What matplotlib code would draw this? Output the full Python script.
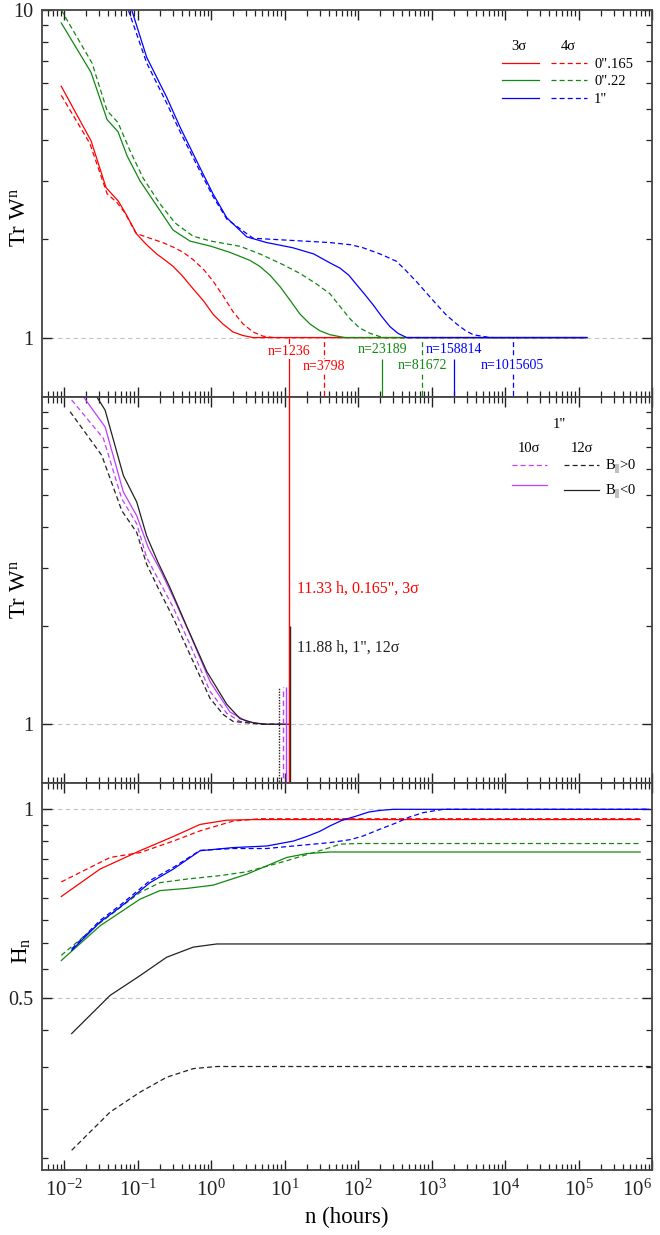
import numpy as np
import matplotlib
matplotlib.use('Agg')
import matplotlib.pyplot as plt
from matplotlib.ticker import LogLocator, FixedLocator, FixedFormatter, NullFormatter

plt.rcParams['font.family'] = ['Liberation Serif', 'DejaVu Serif']
plt.rcParams['mathtext.fontset'] = 'custom'
plt.rcParams['mathtext.rm'] = 'Liberation Serif'
plt.rcParams['mathtext.it'] = 'Liberation Serif:italic'
plt.rcParams['mathtext.bf'] = 'Liberation Serif:bold'

RED = '#ff0000'
GREEN = '#118811'
BLUE = '#0000ff'
MAG = '#c03cff'
BLK = '#222222'
GRID = '#c4c4c4'
DASH = (0, (4, 2.5))

# ---------- panel 1 : Tr W^n, 3 sigma (solid) / 4 sigma (dashed) ----------
red3_x = [0.00917, 0.0233, 0.0373, 0.0548, 0.0698, 0.0975, 0.13, 0.182, 0.24, 0.304, 0.40, 0.569, 0.80, 1.06, 1.45, 1.99, 2.7, 3.73, 11.33, 1.3e5]
red3_y = [5.85, 3.99, 2.87, 2.61, 2.38, 2.07, 1.93, 1.80, 1.72, 1.65, 1.55, 1.41, 1.29, 1.18, 1.10, 1.04, 1.015, 1.0, 1.0, 1.0]
red4_x = [0.00917, 0.0225, 0.0385, 0.0528, 0.0677, 0.0954, 0.148, 0.22, 0.304, 0.42, 0.569, 0.80, 1.06, 1.46, 1.99, 2.73, 3.73, 5.1, 7.0, 34.8, 1.3e5]
red4_y = [5.49, 3.91, 2.75, 2.58, 2.40, 2.08, 2.01, 1.95, 1.89, 1.82, 1.73, 1.61, 1.49, 1.34, 1.20, 1.10, 1.04, 1.01, 1.0, 1.0, 1.0]
grn3_x = [0.00917, 0.0233, 0.0385, 0.0543, 0.072, 0.108, 0.184, 0.304, 0.518, 1.0, 1.81, 3.39, 4.6, 6.35, 8.7, 11.9, 16.2, 22.2, 30.0, 41.6, 66.0, 212.6, 1.3e5]
grn3_y = [9.13, 6.45, 4.63, 4.25, 3.59, 3.01, 2.52, 2.13, 1.97, 1.90, 1.82, 1.72, 1.65, 1.55, 1.43, 1.30, 1.18, 1.10, 1.05, 1.02, 1.0, 1.0, 1.0]
grn4_x = [0.00917, 0.0241, 0.0385, 0.0543, 0.079, 0.119, 0.202, 0.323, 0.569, 1.0, 2.48, 4.64, 9.5, 16.2, 27.0, 41.6, 56.0, 78.0, 105.0, 146.0, 218.0, 1.3e5]
grn4_y = [10.0, 6.88, 4.93, 4.53, 3.72, 3.07, 2.56, 2.24, 2.04, 1.97, 1.90, 1.80, 1.67, 1.57, 1.46, 1.36, 1.25, 1.14, 1.07, 1.03, 1.0, 1.0]
blu3_x = [0.0834, 0.133, 0.249, 0.379, 0.708, 1.06, 1.64, 3.06, 5.72, 13.0, 25.0, 41.6, 56.7, 75.0, 95.8, 125.0, 160.0, 210.0, 272.0, 350.0, 460.0, 1.3e5]
blu3_y = [10.0, 7.18, 5.42, 4.39, 3.30, 2.75, 2.32, 2.03, 1.95, 1.88, 1.80, 1.69, 1.63, 1.55, 1.45, 1.35, 1.26, 1.16, 1.08, 1.03, 1.0, 1.0]
blu4_x = [0.075, 0.133, 0.249, 0.379, 0.708, 1.06, 1.64, 3.73, 41.6, 80.0, 117.0, 200.0, 333.0, 450.0, 627.0, 850.0, 1180.0, 1600.0, 2200.0, 2900.0, 3700.0, 6270.0, 1.3e5]
blu4_y = [10.0, 6.9, 5.2, 4.25, 3.22, 2.70, 2.30, 2.01, 1.95, 1.92, 1.88, 1.80, 1.71, 1.60, 1.48, 1.37, 1.26, 1.17, 1.10, 1.05, 1.02, 1.0, 1.0]

# convergence markers (n steps -> hours)
conv_labels = ['n=1236', 'n=3798', 'n=23189', 'n=81672', 'n=158814', 'n=1015605']
conv_hours = [11.33, 34.8, 212.6, 748.7, 1995.0, 12735.0]
conv_top = [1.0, 1.0, 0.86, 1.0, 0.86, 1.0]
conv_text_y = [0.906, 0.815, 0.919, 0.821, 0.919, 0.821]
conv_color = [RED, RED, GREEN, GREEN, BLUE, BLUE]
conv_dashed = [False, True, False, True, False, True]

# ---------- panel 2 : Tr W^n, 1", 10 sigma / 12 sigma ----------
m10p_x = [0.0127, 0.0343, 0.061, 0.0975, 0.133, 0.2, 0.307, 0.518, 0.969, 1.64, 2.48, 5.0, 9.45]
m10p_y = [9.77, 7.46, 4.88, 4.09, 3.23, 2.72, 2.27, 1.75, 1.26, 1.08, 1.02, 1.0, 1.0]
m10n_x = [0.0183, 0.0362, 0.0641, 0.0975, 0.140, 0.21, 0.307, 0.518, 0.969, 1.81, 3.06, 5.0, 10.5]
m10n_y = [10.0, 8.09, 5.12, 4.33, 3.46, 2.92, 2.44, 1.88, 1.35, 1.09, 1.02, 1.0, 1.0]
b12p_x = [0.0121, 0.0326, 0.061, 0.0975, 0.133, 0.2, 0.307, 0.518, 0.969, 1.47, 2.0, 5.0, 8.5]
b12p_y = [9.0, 6.62, 4.49, 3.85, 3.08, 2.55, 2.11, 1.63, 1.20, 1.07, 1.02, 1.0, 1.0]
b12n_x = [0.0278, 0.0362, 0.0641, 0.0975, 0.133, 0.19, 0.277, 0.467, 0.874, 1.64, 2.48, 3.76, 5.72, 11.88]
b12n_y = [10.0, 9.1, 5.75, 4.77, 3.76, 3.12, 2.61, 1.99, 1.45, 1.15, 1.04, 1.01, 1.0, 1.0]

stop_hours = [8.5, 9.45, 10.5, 11.88]
stop_top = [1.30, 1.30, 1.30, 1.99]

# ---------- panel 3 : H_n ----------
hr3_x = [0.00917, 0.0309, 0.108, 0.307, 0.709, 1.64, 3.76, 6.9e5]
hr3_y = [0.726, 0.803, 0.859, 0.905, 0.946, 0.961, 0.963, 0.963]
hr4_x = [0.00917, 0.0423, 0.108, 0.307, 0.709, 2.01, 4.64, 6.9e5]
hr4_y = [0.766, 0.838, 0.853, 0.890, 0.924, 0.958, 0.966, 0.966]
hg3_x = [0.00917, 0.0309, 0.108, 0.202, 0.467, 1.07, 3.06, 10.7, 20.0, 41.6, 6.9e5]
hg3_y = [0.574, 0.652, 0.719, 0.742, 0.748, 0.757, 0.788, 0.838, 0.850, 0.855, 0.855]
hg4_x = [0.00917, 0.0309, 0.108, 0.202, 0.467, 1.33, 3.06, 10.7, 41.6, 56.9, 100.0, 6.9e5]
hg4_y = [0.585, 0.659, 0.737, 0.764, 0.774, 0.784, 0.795, 0.828, 0.869, 0.880, 0.882, 0.882]
hb3_x = [0.0127, 0.0309, 0.0578, 0.148, 0.307, 0.709, 2.01, 5.72, 13.2, 20.0, 30.0, 41.6, 60.0, 95.9, 140.0, 199.0, 300.0, 9e5]
hb3_y = [0.596, 0.661, 0.698, 0.764, 0.803, 0.859, 0.869, 0.874, 0.890, 0.905, 0.922, 0.941, 0.960, 0.976, 0.990, 0.996, 1.0, 1.0]
hb4_x = [0.0127, 0.0309, 0.0578, 0.148, 0.307, 0.709, 2.01, 5.72, 41.6, 80.0, 118.0, 200.0, 336.0, 500.0, 773.0, 1445.0, 9e5]
hb4_y = [0.599, 0.665, 0.703, 0.770, 0.808, 0.860, 0.866, 0.866, 0.885, 0.895, 0.907, 0.930, 0.952, 0.972, 0.988, 1.0, 1.0]
hk12n_x = [0.0127, 0.0423, 0.108, 0.249, 0.574, 1.2, 1e6]
hk12n_y = [0.439, 0.505, 0.543, 0.581, 0.603, 0.610, 0.610]
hk12p_x = [0.0127, 0.0423, 0.108, 0.249, 0.574, 1.2, 1e6]
hk12p_y = [0.286, 0.329, 0.354, 0.374, 0.386, 0.389, 0.389]

x_major = [1e-2, 1e-1, 1e0, 1e1, 1e2, 1e3, 1e4, 1e5, 1e6]

LW = 0.9

fig, axes = plt.subplots(3, 1, sharex=True, figsize=(6.6, 12.35), dpi=100)
fig.subplots_adjust(left=0.0636, right=0.9879, top=0.9919, bottom=0.0526, hspace=0)
ax1, ax2, ax3 = axes

for ax in axes:
    ax.set_xscale('log')
    ax.set_yscale('log')
    ax.set_xlim(10 ** -2.3, 1e6)
    ax.xaxis.set_major_locator(FixedLocator(x_major))
    ax.xaxis.set_minor_locator(LogLocator(base=10, subs=np.arange(2, 10), numticks=20))
    ax.xaxis.set_minor_formatter(NullFormatter())
    ax.tick_params(which='both', direction='in', top=True, right=True, colors='#222')
    ax.tick_params(axis='x', labelsize=15, pad=7)
    ax.tick_params(axis='y', labelsize=14.5, pad=6)
    ax.tick_params(which='major', length=7, width=1.0)
    ax.tick_params(which='minor', length=4, width=0.9)
    for sp in ax.spines.values():
        sp.set_linewidth(1.3)
        sp.set_color('#444444')

# panel 1
ax1.axhline(1.0, color=GRID, lw=0.8, ls=(0, (4, 3)), zorder=1)
r3, = ax1.plot(red3_x, red3_y, color=RED, lw=LW)
r4, = ax1.plot(red4_x, red4_y, color=RED, lw=LW, ls=DASH)
g3, = ax1.plot(grn3_x, grn3_y, color=GREEN, lw=LW)
g4, = ax1.plot(grn4_x, grn4_y, color=GREEN, lw=LW, ls=DASH)
b3, = ax1.plot(blu3_x, blu3_y, color=BLUE, lw=LW)
b4, = ax1.plot(blu4_x, blu4_y, color=BLUE, lw=LW, ls=DASH)

for lab, xh, top, ty, c, d in zip(conv_labels, conv_hours, conv_top, conv_text_y, conv_color, conv_dashed):
    ax1.vlines(xh, 0.5, top, colors=c, lw=LW, linestyles=DASH if d else 'solid', zorder=2)
    ax1.text(xh, ty, lab, color=c, fontsize=10, ha='center', va='center', zorder=3,
             bbox=dict(facecolor='white', edgecolor='none', pad=0.6))

ax1.set_ylim(0.66, 10)
ax1.yaxis.set_major_locator(FixedLocator([1, 10]))
ax1.yaxis.set_major_formatter(FixedFormatter(['1', '10']))
ax1.yaxis.set_minor_locator(FixedLocator([2, 3, 4, 5, 6, 7, 8, 9]))
ax1.yaxis.set_minor_formatter(NullFormatter())
ax1.set_ylabel('Tr W$^{\\rm n}$', fontsize=16.5)
ax1.yaxis.set_label_coords(-0.018, 0.462)

ax1.legend(handles=[r3, g3, b3, r4, g4, b4], labels=['', '', '', '0".165', '0".22', '1"'],
           ncol=2, loc='upper left', bbox_to_anchor=(0.754, 0.877), frameon=False,
           fontsize=10.5, handlelength=2.53, handletextpad=0.46, columnspacing=0.34,
           labelspacing=0.3, borderpad=0, borderaxespad=0)
ax1.text(0.782, 0.905, '3σ', transform=ax1.transAxes, fontsize=10.5, ha='center', va='center')
ax1.text(0.862, 0.905, '4σ', transform=ax1.transAxes, fontsize=10.5, ha='center', va='center')

# panel 2
ax2.axhline(1.0, color=GRID, lw=0.8, ls=(0, (4, 3)), zorder=1)
mp, = ax2.plot(m10p_x, m10p_y, color=MAG, lw=LW, ls=DASH)
mn, = ax2.plot(m10n_x, m10n_y, color=MAG, lw=LW)
kp, = ax2.plot(b12p_x, b12p_y, color=BLK, lw=LW, ls=DASH)
kn, = ax2.plot(b12n_x, b12n_y, color=BLK, lw=LW)

stop_colors = [BLK, MAG, MAG, BLK]
stop_styles = [(0, (1, 1)), DASH, 'solid', 'solid']
for xh, top, c, s in zip(stop_hours, stop_top, stop_colors, stop_styles):
    ax2.vlines(xh, 0.5, top, colors=c, lw=1.0, linestyles=s, zorder=3)
ax2.axvline(conv_hours[0], color=RED, lw=1.0, zorder=3)
ax2.text(14.7, 2.59, '11.33 h, 0.165", 3σ', color=RED, fontsize=11.5, ha='left', va='center')
ax2.text(14.7, 1.71, '11.88 h, 1", 12σ', color=BLK, fontsize=11.5, ha='left', va='center')

ax2.set_ylim(0.66, 10)
ax2.yaxis.set_major_locator(FixedLocator([1]))
ax2.yaxis.set_major_formatter(FixedFormatter(['1']))
ax2.yaxis.set_minor_locator(FixedLocator([2, 3, 4, 5, 6, 7, 8, 9]))
ax2.yaxis.set_minor_formatter(NullFormatter())
ax2.set_ylabel('Tr W$^{\\rm n}$', fontsize=16.5)
ax2.yaxis.set_label_coords(-0.018, 0.5)

ax2.legend(handles=[mp, mn, kp, kn], labels=['', '', 'B$_{||}$>0', 'B$_{||}$<0'],
           ncol=2, loc='upper left', bbox_to_anchor=(0.770, 0.841), frameon=False,
           fontsize=10.5, handlelength=2.44, handletextpad=0.39, columnspacing=0.75,
           labelspacing=0.45, borderpad=0, borderaxespad=0)
ax2.text(0.849, 0.927, '1"', transform=ax2.transAxes, fontsize=10.5, ha='center', va='center')
ax2.text(0.798, 0.866, '10σ', transform=ax2.transAxes, fontsize=10.5, ha='center', va='center')
ax2.text(0.885, 0.866, '12σ', transform=ax2.transAxes, fontsize=10.5, ha='center', va='center')

# panel 3
ax3.axhline(1.0, color=GRID, lw=0.8, ls=(0, (4, 3)), zorder=1)
ax3.axhline(0.5, color=GRID, lw=0.8, ls=(0, (4, 3)), zorder=1)
ax3.plot(hr3_x, hr3_y, color=RED, lw=LW)
ax3.plot(hr4_x, hr4_y, color=RED, lw=LW, ls=DASH)
ax3.plot(hg3_x, hg3_y, color=GREEN, lw=LW)
ax3.plot(hg4_x, hg4_y, color=GREEN, lw=LW, ls=DASH)
ax3.plot(hb3_x, hb3_y, color=BLUE, lw=LW)
ax3.plot(hb4_x, hb4_y, color=BLUE, lw=LW, ls=DASH)
ax3.plot(hk12n_x, hk12n_y, color=BLK, lw=LW)
ax3.plot(hk12p_x, hk12p_y, color=BLK, lw=LW, ls=DASH)

ax3.set_ylim(0.266, 1.1)
ax3.yaxis.set_major_locator(FixedLocator([0.5, 1.0]))
ax3.yaxis.set_major_formatter(FixedFormatter(['0.5', '1']))
ax3.yaxis.set_minor_locator(FixedLocator([0.5 + k / 18 for k in range(-4, 9) if k != 0]))
ax3.yaxis.set_minor_formatter(NullFormatter())
ax3.set_ylabel('H$_{\\rm n}$', fontsize=16.5)
ax3.yaxis.set_label_coords(-0.015, 0.567)
ax3.set_xlabel('n (hours)', fontsize=16.5, labelpad=4)

# keep the last decade label inside the figure
ax3.get_xticklabels()[-1].set_horizontalalignment('right')

fig.savefig('out.png', dpi=100)
